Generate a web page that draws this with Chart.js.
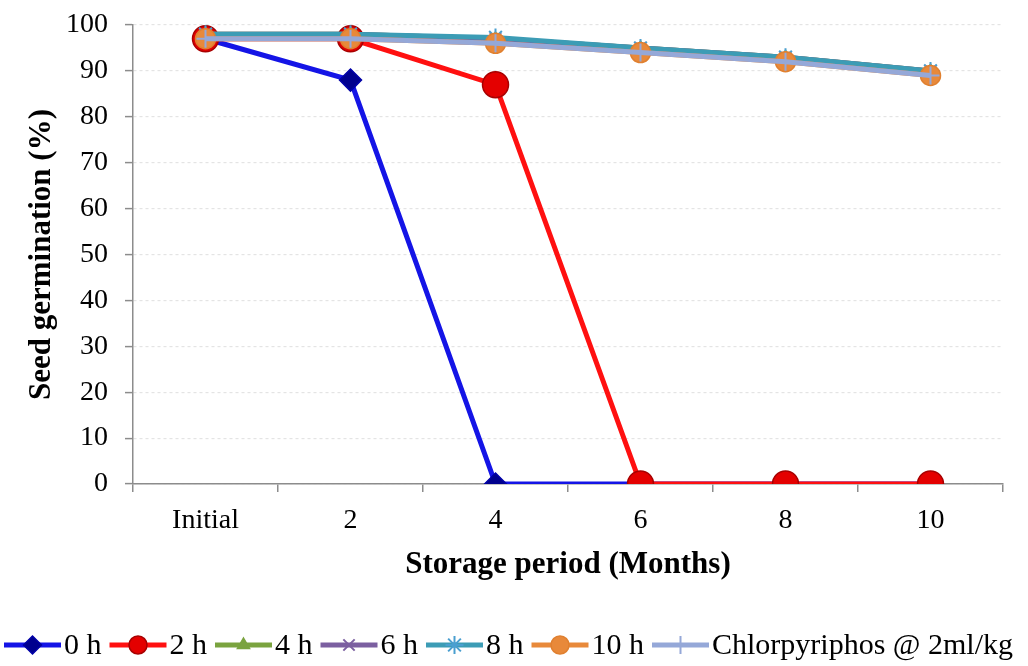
<!DOCTYPE html>
<html>
<head>
<meta charset="utf-8">
<script src="https://cdn.jsdelivr.net/npm/chart.js@4/dist/chart.umd.min.js"></script>
<style>
  html, body { margin: 0; padding: 0; background: #fff; }
  #wrap { width: 1028px; height: 666px; }
</style>
</head>
<body>
<div id="wrap"><canvas id="germChart" width="1028" height="666"></canvas></div>
<script>
// Seed germination (%) over storage period
const months = ['Initial', '2', '4', '6', '8', '10'];
const yTicks = [0, 10, 20, 30, 40, 50, 60, 70, 80, 90, 100];

const germ0h = [97, 88, 0, 0, 0, 0];
const germ2h = [97, 97, 87, 0, 0, 0];
const germ4h = [98, 98, 97, 95, 93, 90];
const germ6h = [98, 98, 97, 95, 93, 90];
const germ8h = [98, 98, 97.3, 95, 93, 90];
const germ10h = [97, 97, 96, 94, 92, 89];
const germChlor = [97, 97, 96, 94, 92, 89];

const seriesNames = ['0 h', '2 h', '4 h', '6 h', '8 h', '10 h', 'Chlorpyriphos @ 2ml/kg'];

const serif = "'Liberation Serif', 'Times New Roman', serif";

function series(label, data, line, style) {
    return Object.assign({
        label: label,
        data: data,
        borderColor: line,
        borderWidth: 5,
        tension: 0,
        pointBorderWidth: 1.5,
        pointHoverRadius: 0
    }, style);
}

const datasets = [
    series(seriesNames[0], germ0h, '#1414E6', {
        pointStyle: 'rectRot', pointRadius: 11,
        pointBackgroundColor: '#00008E', pointBorderColor: '#0000A8'
    }),
    series(seriesNames[1], germ2h, '#FF1010', {
        pointStyle: 'circle', pointRadius: 13,
        pointBackgroundColor: '#E40000', pointBorderColor: '#A80000'
    }),
    series(seriesNames[2], germ4h, '#7AA33F', {
        pointStyle: 'triangle', pointRadius: 7,
        pointBackgroundColor: '#7AA33F', pointBorderColor: '#7AA33F'
    }),
    series(seriesNames[3], germ6h, '#7B5FA0', {
        pointStyle: 'crossRot', pointRadius: 8, pointBorderWidth: 2,
        pointBackgroundColor: '#7B5FA0', pointBorderColor: '#7B5FA0'
    }),
    series(seriesNames[4], germ8h, '#3C9CB5', {
        pointStyle: 'star', pointRadius: 9, pointBorderWidth: 2,
        pointBackgroundColor: '#3C9CB5', pointBorderColor: '#4A9FD0'
    }),
    series(seriesNames[5], germ10h, '#E8893A', {
        pointStyle: 'circle', pointRadius: 10,
        pointBackgroundColor: '#E8893A', pointBorderColor: '#E08030'
    }),
    series(seriesNames[6], germChlor, '#95A8D8', {
        pointStyle: 'cross', pointRadius: 9, pointBorderWidth: 2,
        pointBackgroundColor: '#95A8D8', pointBorderColor: '#95A8D8'
    })
];
// Later series are painted over earlier ones, like the original
datasets.forEach((ds, i) => { ds.order = datasets.length - 1 - i; });

// Legend along the bottom: a line sample with the marker on it, then the name
const bottomLegend = {
    id: 'bottomLegend',
    afterDraw(chart) {
        const ctx = chart.ctx;
        const y = 645, sample = 57;
        ctx.save();
        ctx.font = '30px ' + serif;
        ctx.textBaseline = 'middle';
        ctx.fillStyle = '#000';
        let x = 4;
        chart.data.datasets.forEach(ds => {
            ctx.strokeStyle = ds.borderColor;
            ctx.lineWidth = 5;
            ctx.beginPath();
            ctx.moveTo(x, y);
            ctx.lineTo(x + sample, y);
            ctx.stroke();
            ctx.fillStyle = ds.pointBackgroundColor;
            ctx.strokeStyle = ds.pointBorderColor;
            ctx.lineWidth = ds.pointBorderWidth;
            Chart.helpers.drawPoint(ctx, {
                pointStyle: ds.pointStyle,
                radius: Math.min(ds.pointRadius, 9),
                rotation: 0,
                borderWidth: ds.pointBorderWidth
            }, x + sample / 2, y);
            ctx.fillStyle = '#000';
            ctx.fillText(ds.label, x + sample + 3, y + 1);
            x += sample + 3 + ctx.measureText(ds.label).width + 8;
        });
        ctx.restore();
    }
};

new Chart(document.getElementById('germChart'), {
    type: 'line',
    plugins: [bottomLegend],
    data: { labels: months, datasets: datasets },
    options: {
        responsive: false,
        animation: false,
        events: [],
        layout: { padding: { left: 0, right: 25, top: 25, bottom: 82 } },
        plugins: {
            legend: { display: false },
            tooltip: { enabled: false }
        },
        scales: {
            x: {
                offset: true,
                grid: { offset: true, drawOnChartArea: false, color: '#8c8c8c', tickLength: 8, lineWidth: 1.5 },
                border: { color: '#8c8c8c', width: 1.5 },
                ticks: { color: '#000', padding: 12, font: { family: serif, size: 28 } },
                title: {
                    display: true,
                    text: 'Storage period (Months)',
                    color: '#000',
                    padding: { top: 0, bottom: 0 },
                    font: { family: serif, size: 31, weight: 'bold' }
                },
                afterFit(scale) { scale.height = 100; }
            },
            y: {
                min: 0,
                max: 100,
                afterBuildTicks(axis) { axis.ticks = yTicks.map(v => ({ value: v })); },
                grid: { color: '#e4e4e4', tickColor: '#8c8c8c', tickLength: 8, lineWidth: 1.2, tickWidth: 1.5 },
                border: { color: '#8c8c8c', width: 1.5, dash: [3, 3] },
                ticks: { color: '#000', padding: 17, font: { family: serif, size: 28 } },
                title: {
                    display: true,
                    text: 'Seed germination (%)',
                    color: '#000',
                    padding: { top: 23, bottom: 0 },
                    font: { family: serif, size: 31, weight: 'bold' }
                },
                afterFit(scale) {
                    scale.width = 133;
                    scale.paddingTop = 0;
                    scale.paddingBottom = 0;
                }
            }
        }
    }
});
</script>
</body>
</html>
